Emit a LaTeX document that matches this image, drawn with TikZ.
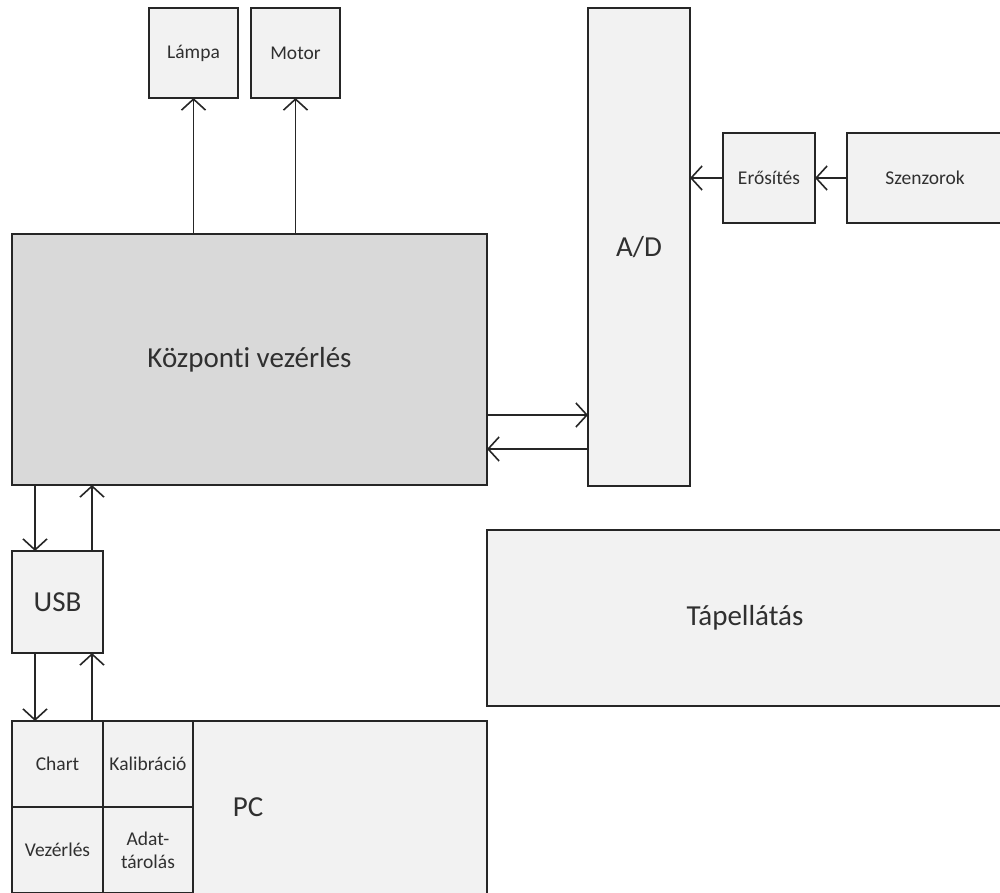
\documentclass[tikz,border=0pt]{standalone}
\usepackage{fontspec}
\setmainfont[Ligatures=NoCommon]{Carlito}
\usetikzlibrary{arrows.meta}
\definecolor{boxfill}{HTML}{F2F2F2}
\definecolor{mainfill}{HTML}{D9D9D9}
\definecolor{edge}{HTML}{262626}
\definecolor{txt}{HTML}{303030}
\begin{document}
\begin{tikzpicture}[x=1pt,y=-1pt,
  box/.style={draw=edge, line width=2pt, fill=boxfill, inner sep=0pt, outer sep=0pt, text=txt, align=center},
  smalltxt/.style={font=\fontsize{19.5}{23}\selectfont},
  bigtxt/.style={font=\fontsize{29}{34}\selectfont},
  arr/.style={draw=edge, line width=1.6pt, -{Straight Barb[length=11pt,width=24pt,line width=1.6pt]}},
  lbl/.style={text=txt, inner sep=0pt}]
\clip (0,0) rectangle (1000,893);
\fill[white] (0,0) rectangle (1000,893);
% top outputs
\node[box, smalltxt, minimum width=89pt, minimum height=90pt] (lampa) at (193.5,53) {Lámpa};
\node[box, smalltxt, minimum width=89pt, minimum height=90pt] (motor) at (295.5,53) {Motor};
% central control
\node[box, bigtxt, fill=mainfill, minimum width=475pt, minimum height=251pt] (kc) at (249.5,359.5) {Központi vezérlés};
% A/D
\node[box, bigtxt, minimum width=102pt, minimum height=478pt] (ad) at (639,247) {A/D};
\node[box, smalltxt, minimum width=92pt, minimum height=90pt] (ero) at (769,178) {Erősítés};
\node[box, smalltxt, minimum width=156pt, minimum height=90pt] (sz) at (925,178) {Szenzorok};
% USB
\node[box, bigtxt, minimum width=91pt, minimum height=102pt] (usb) at (57.5,602) {USB};
% power
\node[box, bigtxt, minimum width=516pt, minimum height=176pt] (tap) at (745,618) {Tápellátás};
% PC
\node[box, minimum width=475pt, minimum height=180pt] (pc) at (249.5,811) {};
\node[lbl, bigtxt] (pclabel) at (248,807) {PC};
\node[box, smalltxt, minimum width=91pt, minimum height=86pt] (chart) at (57.5,764) {Chart};
\node[box, smalltxt, minimum width=90pt, minimum height=86pt] (kal) at (148,764) {Kalibráció};
\node[box, smalltxt, minimum width=91pt, minimum height=86pt] (vez) at (57.5,850) {Vezérlés};
\node[box, smalltxt, minimum width=90pt, minimum height=86pt] (adat) at (148,850) {Adat-\\tárolás};
% connectors
\draw[arr] (kc.north -| lampa.south) -- (lampa.south);
\draw[arr] (kc.north -| motor.south) -- (motor.south);
\draw[arr] ([yshift=-55.5pt]kc.east) -- ([yshift=-55.5pt]kc.east -| ad.west);
\draw[arr] ([yshift=-89.5pt]kc.east -| ad.west) -- ([yshift=-89.5pt]kc.east);
\draw[arr] (ero.west) -- (ero.west -| ad.east);
\draw[arr] (sz.west) -- (ero.east);
\draw[arr] ([xshift=-22.5pt]usb.north |- kc.south) -- ([xshift=-22.5pt]usb.north);
\draw[arr] ([xshift=34.5pt]usb.north) -- ([xshift=34.5pt]usb.north |- kc.south);
\draw[arr] ([xshift=-22.5pt]usb.south) -- ([xshift=-22.5pt]usb.south |- pc.north);
\draw[arr] ([xshift=34.5pt]usb.south |- pc.north) -- ([xshift=34.5pt]usb.south);
\end{tikzpicture}
\end{document}
